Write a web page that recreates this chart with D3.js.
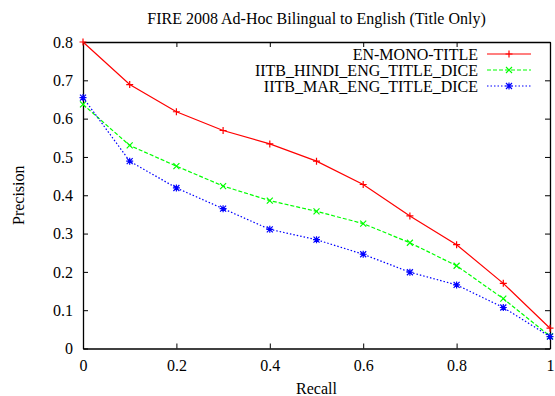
<!DOCTYPE html>
<html lang="en">
<head>
    <meta charset="UTF-8">
    <title>FIRE 2008 Ad-Hoc Bilingual to English (Title Only)</title>
    <script src="https://cdn.jsdelivr.net/npm/d3@7"></script>
    <style>
        body { margin: 0; background: #fff; }
        svg text { font-family: "Liberation Serif", "DejaVu Serif", serif; font-size: 16px; fill: #000; }
        .axis path, .axis line { stroke: #000; }
    </style>
</head>
<body>
<svg id="graphDiv" width="555" height="396"></svg>
<script>
    // data
    var recall = [0, 0.1, 0.2, 0.3, 0.4, 0.5, 0.6, 0.7, 0.8, 0.9, 1.0];
    var enMono = [0.800, 0.689, 0.618, 0.569, 0.534, 0.489, 0.428, 0.346, 0.271, 0.170, 0.053];
    var hindiEng = [0.637, 0.530, 0.476, 0.424, 0.386, 0.358, 0.326, 0.276, 0.216, 0.130, 0.032];
    var marEng = [0.655, 0.489, 0.419, 0.365, 0.311, 0.284, 0.246, 0.199, 0.166, 0.107, 0.031];
    var seriesNames = ["EN-MONO-TITLE", "IITB_HINDI_ENG_TITLE_DICE", "IITB_MAR_ENG_TITLE_DICE"];
    var xTicks = [0, 0.2, 0.4, 0.6, 0.8, 1];
    var yTicks = [0, 0.1, 0.2, 0.3, 0.4, 0.5, 0.6, 0.7, 0.8];

    var title = "FIRE 2008 Ad-Hoc Bilingual to English (Title Only)";
    var xLabel = "Recall";
    var yLabel = "Precision";

    var styles = [
        {color: "#ff0000", dash: null, marker: "plus"},
        {color: "#00ff00", dash: "4,2", marker: "cross"},
        {color: "#0000ff", dash: "1.5,2", marker: "star"}
    ];

    function drawChart() {
        var pLeft = 83, pRight = 550, pTop = 42, pBottom = 348.5;
        var svg = d3.select("#graphDiv");

        var x = d3.scaleLinear().domain([0, 1]).range([pLeft, pRight]);
        var y = d3.scaleLinear().domain([0, 0.8]).range([pBottom, pTop]);

        function fmt(d) {
            return String(+d.toFixed(1));
        }

        // axes, ticks inward like gnuplot
        svg.append("g").attr("class", "axis")
            .attr("transform", "translate(0," + pBottom + ")")
            .call(d3.axisBottom(x).tickValues(xTicks).tickFormat(fmt).tickSize(-5).tickSizeOuter(0).tickPadding(11.5));
        svg.append("g").attr("class", "axis")
            .attr("transform", "translate(" + pLeft + ",0)")
            .call(d3.axisLeft(y).tickValues(yTicks).tickFormat(fmt).tickSize(-5).tickSizeOuter(0).tickPadding(10));
        svg.append("g").attr("class", "axis")
            .attr("transform", "translate(0," + pTop + ")")
            .call(d3.axisTop(x).tickValues(xTicks).tickFormat("").tickSize(-5).tickSizeOuter(0));
        svg.append("g").attr("class", "axis")
            .attr("transform", "translate(" + pRight + ",0)")
            .call(d3.axisRight(y).tickValues(yTicks).tickFormat("").tickSize(-5).tickSizeOuter(0));
        svg.selectAll(".axis text").attr("font-family", null).attr("font-size", null);
        svg.selectAll(".axis path").attr("stroke-width", 1.3);

        // titles
        svg.append("text").attr("x", (pLeft + pRight) / 2).attr("y", 23.5)
            .attr("text-anchor", "middle").text(title);
        svg.append("text").attr("x", (pLeft + pRight) / 2).attr("y", 394)
            .attr("text-anchor", "middle").text(xLabel);
        svg.append("text").attr("transform", "translate(24," + ((pTop + pBottom) / 2) + ") rotate(-90)")
            .attr("text-anchor", "middle").text(yLabel);

        function markerPath(type, cx, cy) {
            var s = 3.5, p = d3.path();
            if (type == "plus" || type == "star") {
                p.moveTo(cx - s, cy); p.lineTo(cx + s, cy);
                p.moveTo(cx, cy - s); p.lineTo(cx, cy + s);
            }
            if (type == "cross" || type == "star") {
                var t = 3;
                p.moveTo(cx - t, cy - t); p.lineTo(cx + t, cy + t);
                p.moveTo(cx - t, cy + t); p.lineTo(cx + t, cy - t);
            }
            return p.toString();
        }

        var allSeries = [enMono, hindiEng, marEng];
        var line = d3.line()
            .x(function (d, i) { return x(recall[i]); })
            .y(function (d) { return y(d); });

        allSeries.forEach(function (vals, k) {
            var st = styles[k];
            var g = svg.append("g");
            g.append("path").datum(vals)
                .attr("d", line)
                .attr("fill", "none")
                .attr("stroke", st.color)
                .attr("stroke-width", 1.2)
                .attr("stroke-dasharray", st.dash);
            g.selectAll("path.pt").data(vals).enter().append("path")
                .attr("class", "pt")
                .attr("d", function (d, i) { return markerPath(st.marker, x(recall[i]), y(d)); })
                .attr("stroke", st.color)
                .attr("stroke-width", 1.2)
                .attr("fill", "none");

            // legend row
            var ly = 54 + k * 16;
            svg.append("text").attr("x", 478).attr("y", ly + 5.5)
                .attr("text-anchor", "end").text(seriesNames[k]);
            svg.append("line").attr("x1", 487).attr("x2", 531).attr("y1", ly).attr("y2", ly)
                .attr("stroke", st.color).attr("stroke-width", 1.2).attr("stroke-dasharray", st.dash);
            svg.append("path").attr("d", markerPath(st.marker, 509, ly))
                .attr("stroke", st.color).attr("stroke-width", 1.2).attr("fill", "none");
        });
    }

    drawChart();
</script>
</body>
</html>
